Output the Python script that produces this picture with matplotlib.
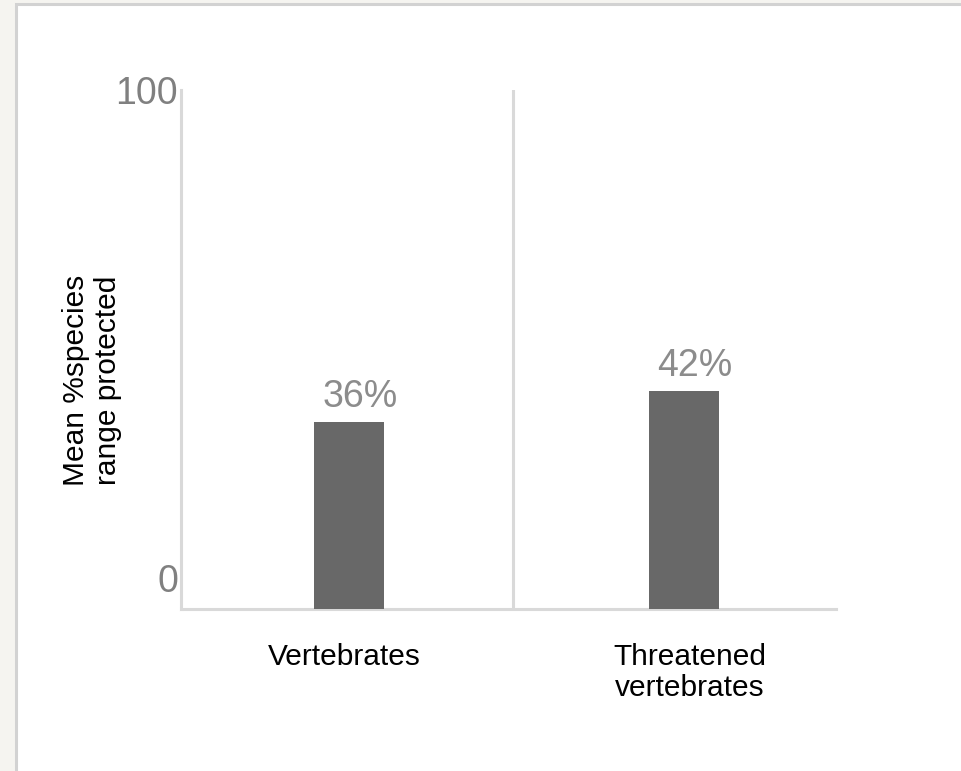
import matplotlib
matplotlib.use("Agg")
import matplotlib.pyplot as plt
from matplotlib.patches import Rectangle
from matplotlib.transforms import offset_copy

categories = ["Vertebrates", "Threatened\nvertebrates"]
values = [36, 42]
value_labels = ["36%", "42%"]
y_ticks = [0, 100]
y_tick_labels = ["0", "100"]
y_label = "Mean %species\nrange protected"

W, H = 961, 771
plt.rcParams["font.family"] = ["Liberation Sans", "DejaVu Sans"]
fig = plt.figure(figsize=(W / 100, H / 100), dpi=100, facecolor="#f5f4f0")

# white panel with light border
fig.patches.append(Rectangle((16 / W, -0.05), 1.2, 1 - 4 / H + 0.05,
                             transform=fig.transFigure, facecolor="white",
                             edgecolor="#d2d2d2", linewidth=2.2, zorder=-5))

ax = fig.add_axes([181 / W, 1 - 609 / H, (836 - 181) / W, (609 - 90) / H])
ax.set_zorder(2)
ax.set_facecolor("none")
ax.set_xlim(-0.5015, 1.454)
ax.set_ylim(0, 100)

x = list(range(len(categories)))
ax.bar(x, values, width=0.21, color="#686868", zorder=3)

for s in ["top", "right"]:
    ax.spines[s].set_visible(False)
for s in ["left", "bottom"]:
    ax.spines[s].set_color("#d9d9d9")
    ax.spines[s].set_linewidth(2.2)
ax.axvline(0.49, color="#d9d9d9", linewidth=2.2, zorder=1)

ax.set_xticks([])
ax.set_yticks([])

# y tick labels
tick_offsets = {0: 27, 100: -4}
for v, lab in zip(y_ticks, y_tick_labels):
    tr = offset_copy(ax.get_yaxis_transform(), fig=fig, x=-3, y=tick_offsets[v], units="dots")
    ax.text(0, v, lab, transform=tr, ha="right", va="center", fontsize=27,
            color="#808080", clip_on=False)

# value labels
for xi, v, lab in zip(x, values, value_labels):
    ax.annotate(lab, (xi, v), xytext=(11, 15), textcoords="offset pixels",
                ha="center", va="baseline", fontsize=27, color="#8c8c8c")

# category labels
cat_offsets = [-5, 6]
for xi, lab, dx in zip(x, categories, cat_offsets):
    tr = offset_copy(ax.get_xaxis_transform(), fig=fig, x=dx, y=-34, units="dots")
    ax.text(xi, 0, lab, transform=tr, ha="center", va="top", fontsize=21.5,
            color="black", linespacing=1.15, multialignment="center", clip_on=False)

fig.text(92 / W, 1 - 380 / H, y_label, rotation=90, ha="center", va="center",
         fontsize=21.5, color="black", linespacing=1.15, multialignment="center",
         zorder=3)

fig.savefig("out.png", dpi=100, facecolor=fig.get_facecolor())
